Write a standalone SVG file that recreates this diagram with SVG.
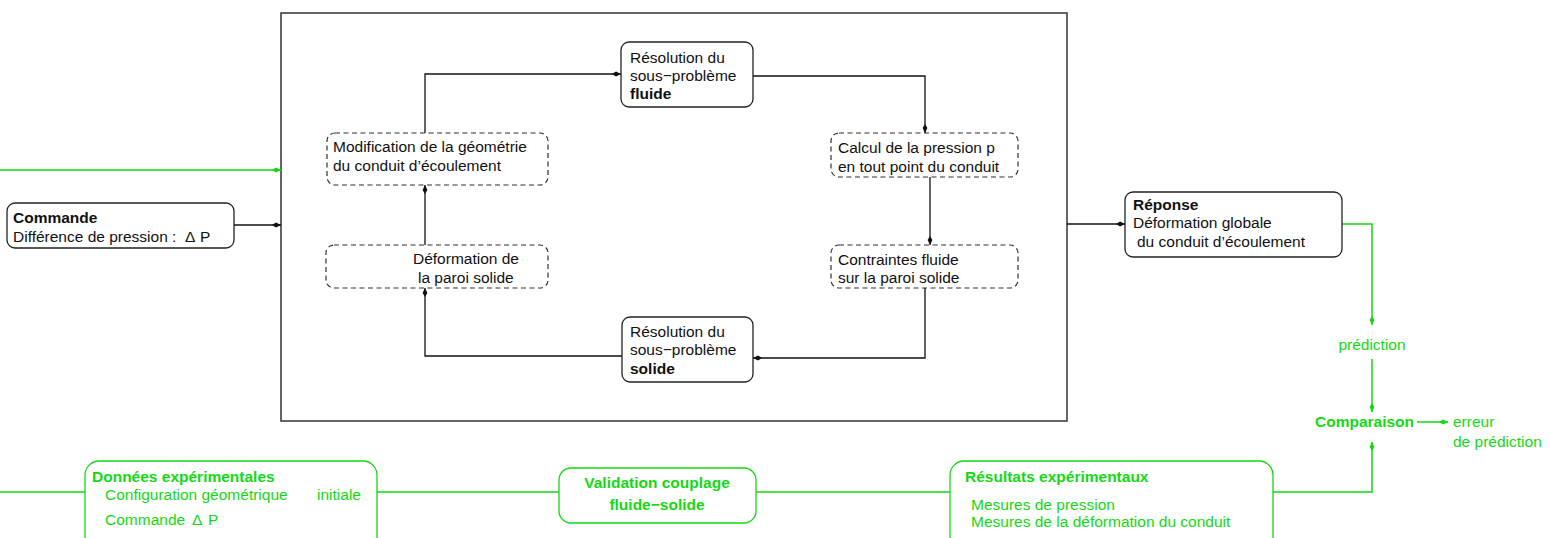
<svg xmlns="http://www.w3.org/2000/svg" width="1549" height="538" viewBox="0 0 1549 538">
<style>
text{font-family:"Liberation Sans",Arial,sans-serif;font-size:15.5px;fill:#111}
.b{font-weight:bold}
.g{fill:#14d814}
.box{fill:#fff;stroke:#222;stroke-width:1.3}
.dbox{fill:#fff;stroke:#333;stroke-width:1.2;stroke-dasharray:5,3.5}
.gbox{fill:#fff;stroke:#14d814;stroke-width:1.3}
.c{fill:none;stroke:#111;stroke-width:1.3}
.cg{fill:none;stroke:#14d814;stroke-width:1.5}
</style>
<defs>
<marker id="ah" viewBox="-10 -3 10 6" refX="0" refY="0" markerWidth="10" markerHeight="6" orient="auto" markerUnits="userSpaceOnUse">
<path d="M0,0 L-5,-2.4 L-9,0 L-5,2.4 Z" fill="#111"/>
</marker>
<marker id="ahg" viewBox="-10 -3 10 6" refX="0" refY="0" markerWidth="10" markerHeight="6" orient="auto" markerUnits="userSpaceOnUse">
<path d="M0,0 L-5,-2.4 L-9,0 L-5,2.4 Z" fill="#14d814"/>
</marker>
</defs>
<rect x="281" y="13" width="786" height="408" fill="none" stroke="#333" stroke-width="1.5"/>
<g id="connectors">
<path class="cg" d="M0,170 H281" marker-end="url(#ahg)"/>
<path class="c" d="M234,225 H281" marker-end="url(#ah)"/>
<path class="c" d="M425,133 V74 H621" marker-end="url(#ah)"/>
<path class="c" d="M753,76 H925 V133" marker-end="url(#ah)"/>
<path class="c" d="M930,177 V245" marker-end="url(#ah)"/>
<path class="c" d="M925,288 V358 H753" marker-end="url(#ah)"/>
<path class="c" d="M622,356 H425 V288" marker-end="url(#ah)"/>
<path class="c" d="M425,245 V185" marker-end="url(#ah)"/>
<path class="c" d="M1067,224 H1125" marker-end="url(#ah)"/>
<path class="cg" d="M1342,224 H1372 V325" marker-end="url(#ahg)"/>
<path class="cg" d="M1372,359 V412" marker-end="url(#ahg)"/>
<path class="cg" d="M1417,422 H1448" marker-end="url(#ahg)"/>
<path class="cg" d="M1273,492 H1372 V442" marker-end="url(#ahg)"/>
<path class="cg" d="M0,492 H85 M377,492 H559 M756,492 H950"/>
</g>
<g id="commande">
<rect class="box" x="7" y="203" width="227" height="45" rx="8"/>
<text x="13" y="223" class="b">Commande</text>
<text x="13" y="242">Différence de pression :<tspan x="185">Δ</tspan><tspan x="200">P</tspan></text>
</g>
<g id="fluide">
<rect class="box" x="621" y="42" width="132" height="65" rx="8"/>
<text x="630" y="63">Résolution du</text>
<text x="630" y="81">sous−problème</text>
<text x="630" y="99" class="b">fluide</text>
</g>
<g id="modification">
<rect class="dbox" x="327" y="133" width="221" height="52" rx="8"/>
<text x="333" y="152">Modification de la géométrie</text>
<text x="333" y="171">du conduit d’écoulement</text>
</g>
<g id="calcul">
<rect class="dbox" x="831" y="133" width="187" height="44" rx="8"/>
<text x="838" y="153">Calcul de la pression p</text>
<text x="838" y="172">en tout point du conduit</text>
</g>
<g id="contraintes">
<rect class="dbox" x="831" y="245" width="187" height="43" rx="8"/>
<text x="838" y="265">Contraintes fluide</text>
<text x="838" y="283">sur la paroi solide</text>
</g>
<g id="deformation">
<rect class="dbox" x="326" y="245" width="222" height="43" rx="8"/>
<text x="413" y="264">Déformation de</text>
<text x="418" y="283">la paroi solide</text>
</g>
<g id="solide">
<rect class="box" x="622" y="317" width="131" height="65" rx="8"/>
<text x="630" y="337">Résolution du</text>
<text x="630" y="355">sous−problème</text>
<text x="630" y="374" class="b">solide</text>
</g>
<g id="reponse">
<rect class="box" x="1125" y="192" width="217" height="65" rx="8"/>
<text x="1133" y="210" class="b">Réponse</text>
<text x="1133" y="228">Déformation globale</text>
<text x="1137" y="247">du conduit d’écoulement</text>
</g>
<g id="prediction">
<text x="1372" y="350" class="g" text-anchor="middle">prédiction</text>
</g>
<g id="comparaison">
<text x="1315" y="427" class="g b">Comparaison</text>
</g>
<g id="erreur">
<text x="1453" y="427" class="g">erreur</text>
<text x="1453" y="447" class="g">de prédiction</text>
</g>
<g id="donnees">
<rect class="gbox" x="85" y="461" width="292" height="90" rx="14"/>
<text x="92" y="482" class="g b">Données expérimentales</text>
<text x="105" y="500" class="g">Configuration géométrique</text>
<text x="317" y="500" class="g">initiale</text>
<text x="105" y="525" class="g">Commande<tspan x="192">Δ</tspan><tspan x="208">P</tspan></text>
</g>
<g id="validation">
<rect class="gbox" x="559" y="468" width="197" height="55" rx="12"/>
<text x="657" y="488" class="g b" text-anchor="middle">Validation couplage</text>
<text x="657" y="510" class="g b" text-anchor="middle">fluide−solide</text>
</g>
<g id="resultats">
<rect class="gbox" x="950" y="461" width="323" height="90" rx="14"/>
<text x="965" y="482" class="g b">Résultats expérimentaux</text>
<text x="971" y="510" class="g">Mesures de pression</text>
<text x="971" y="527" class="g">Mesures de la déformation du conduit</text>
</g>
</svg>
